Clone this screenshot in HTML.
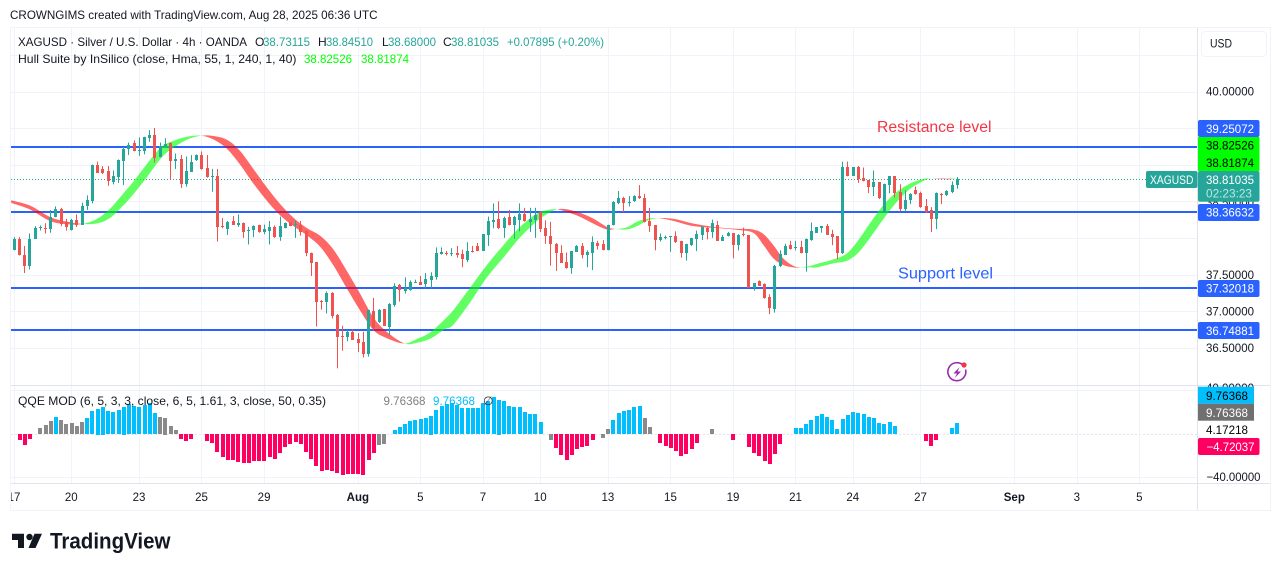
<!DOCTYPE html>
<html lang="en">
<head>
<meta charset="utf-8">
<title>XAGUSD 4h chart</title>
<style>
html,body{margin:0;padding:0;background:#fff;width:1281px;height:571px;overflow:hidden}
svg{display:block}
text{font-family:"Liberation Sans",sans-serif;font-size:12px;fill:#131722}
.px{font-size:12px}
</style>
</head>
<body>
<svg id="chart" xmlns="http://www.w3.org/2000/svg" width="1281" height="571" viewBox="0 0 1281 571">
<defs>
<clipPath id="clip-main"><rect x="11" y="28" width="1186" height="357"/></clipPath>
<clipPath id="clip-qqe"><rect x="11" y="386" width="1186" height="97"/></clipPath>
<clipPath id="clip-time"><rect x="11" y="484" width="1186" height="26"/></clipPath>
</defs>
<rect x="0" y="0" width="1281" height="571" fill="#ffffff"/>
<text x="10" y="19" textLength="367.5" lengthAdjust="spacingAndGlyphs">CROWNGIMS created with TradingView.com, Aug 28, 2025 06:36 UTC</text>

<g id="grid"></g>
<g id="levels" clip-path="url(#clip-main)"></g>
<g id="hull" clip-path="url(#clip-main)"></g>
<g id="candles" clip-path="url(#clip-main)"></g>
<g id="qqe" clip-path="url(#clip-qqe)"></g>

<g fill="none">
<path d="M10.5 27.5H1270.5V510.5H10.5Z" stroke="#f0f3fa"/>
<path d="M11 385.5H1270" stroke="#e0e3eb"/>
<path d="M11 483.5H1270" stroke="#e0e3eb"/>
<path d="M1197.5 28V510" stroke="#e0e3eb"/>
</g>

<g>
<text x="877" y="132" textLength="114.5" lengthAdjust="spacingAndGlyphs" style="font-size:16px;fill:#f23645">Resistance level</text>
<text x="898" y="278.5" textLength="95" lengthAdjust="spacingAndGlyphs" style="font-size:16px;fill:#2962ff">Support level</text>
<g>
<path d="M963.5 365.6A9 9 0 1 0 965.6 369.5" fill="none" stroke="#9c27b0" stroke-width="1.6"/>
<path d="M959.5 367L953.5 373.5H957L954.8 378L961 371.5H957.5Z" fill="#9c27b0"/>
<circle cx="964" cy="365" r="2.6" fill="#f23645"/>
</g>
</g>

<g>
<text x="18" y="46" textLength="229" lengthAdjust="spacingAndGlyphs">XAGUSD · Silver / U.S. Dollar · 4h · OANDA</text>
<text x="255" y="46">O</text>
<text x="263" y="46" textLength="47" lengthAdjust="spacingAndGlyphs" style="fill:#26a69a">38.73115</text>
<text x="318" y="46">H</text>
<text x="326" y="46" textLength="47" lengthAdjust="spacingAndGlyphs" style="fill:#26a69a">38.84510</text>
<text x="382" y="46">L</text>
<text x="388" y="46" textLength="48" lengthAdjust="spacingAndGlyphs" style="fill:#26a69a">38.68000</text>
<text x="443" y="46">C</text>
<text x="451" y="46" textLength="48" lengthAdjust="spacingAndGlyphs" style="fill:#26a69a">38.81035</text>
<text x="507" y="46" textLength="97" lengthAdjust="spacingAndGlyphs" style="fill:#26a69a">+0.07895 (+0.20%)</text>
<text x="18" y="63" textLength="278.5" lengthAdjust="spacingAndGlyphs">Hull Suite by InSilico (close, Hma, 55, 1, 240, 1, 40)</text>
<text x="304" y="63" textLength="48" lengthAdjust="spacingAndGlyphs" style="fill:#00ff00">38.82526</text>
<text x="361" y="63" textLength="48" lengthAdjust="spacingAndGlyphs" style="fill:#00ff00">38.81874</text>
</g>

<g>
<text x="18" y="405" textLength="308" lengthAdjust="spacingAndGlyphs">QQE MOD (6, 5, 3, 3, close, 6, 5, 1.61, 3, close, 50, 0.35)</text>
<text x="383.5" y="405" textLength="42" lengthAdjust="spacingAndGlyphs" style="fill:#808080">9.76368</text>
<text x="433" y="405" textLength="42" lengthAdjust="spacingAndGlyphs" style="fill:#00bfff">9.76368</text>
<text x="483" y="405" style="fill:#333">∅</text>
</g>

<g id="priceaxis"></g>

<g>
<text x="1206" y="206.5" textLength="48" lengthAdjust="spacingAndGlyphs">38.50000</text>
<g><rect x="1198" y="120" width="61.5" height="17" rx="2" fill="#2962ff"/><text x="1206" y="133" textLength="48" lengthAdjust="spacingAndGlyphs" style="fill:#fff">39.25072</text></g>
<rect x="1198" y="137" width="61.5" height="34" fill="#00ff00"/>
<text x="1206" y="149.5" textLength="48" lengthAdjust="spacingAndGlyphs" style="fill:#000">38.82526</text>
<text x="1206" y="167" textLength="48" lengthAdjust="spacingAndGlyphs" style="fill:#000">38.81874</text>
<rect x="1198" y="171" width="61.5" height="30.7" rx="2" fill="#26a69a"/>
<text x="1206" y="184" textLength="48" lengthAdjust="spacingAndGlyphs" style="fill:#fff">38.81035</text>
<text x="1206" y="197.5" textLength="46" lengthAdjust="spacingAndGlyphs" style="fill:#bfe5e1">02:23:23</text>
<rect x="1146" y="171" width="51.5" height="17" rx="2" fill="#26a69a"/>
<text x="1150" y="184" textLength="43.5" lengthAdjust="spacingAndGlyphs" style="fill:#fff">XAGUSD</text>
<g><rect x="1198" y="204" width="61.5" height="17" rx="2" fill="#2962ff"/><text x="1206" y="216.5" textLength="48" lengthAdjust="spacingAndGlyphs" style="fill:#fff">38.36632</text></g>
<g><rect x="1198" y="280" width="61.5" height="17" rx="2" fill="#2962ff"/><text x="1206" y="292.5" textLength="48" lengthAdjust="spacingAndGlyphs" style="fill:#fff">37.32018</text></g>
<g><rect x="1198" y="322" width="61.5" height="17" rx="2" fill="#2962ff"/><text x="1206" y="335" textLength="48" lengthAdjust="spacingAndGlyphs" style="fill:#fff">36.74881</text></g>

<text x="1206" y="392" textLength="48" lengthAdjust="spacingAndGlyphs">40.00000</text>
<rect x="1198" y="386.7" width="56" height="17" fill="#00bfff"/>
<text x="1206" y="400" textLength="42" lengthAdjust="spacingAndGlyphs" style="fill:#000">9.76368</text>
<rect x="1198" y="403.7" width="56" height="17" fill="#707070"/>
<text x="1206" y="417" textLength="42" lengthAdjust="spacingAndGlyphs" style="fill:#fff">9.76368</text>
<text x="1206" y="434" textLength="42" lengthAdjust="spacingAndGlyphs" style="fill:#000">4.17218</text>
<rect x="1198" y="438" width="61.5" height="17" rx="2" fill="#ff0062"/>
<text x="1206.5" y="451" textLength="48" lengthAdjust="spacingAndGlyphs" style="fill:#fff">−4.72037</text>
<text x="1206.5" y="481" textLength="54" lengthAdjust="spacingAndGlyphs">−40.00000</text>

<g>
<rect x="1201.5" y="31.5" width="65" height="25" rx="4" fill="#fff" stroke="#f0f3fa"/>
<text x="1210" y="47.5" textLength="22" lengthAdjust="spacingAndGlyphs">USD</text>
</g>
</g>

<g id="timeaxis" clip-path="url(#clip-time)"></g>

<g>
<path d="M12 533.7H24V548H18V540H12Z" fill="#131722"/>
<circle cx="29.5" cy="537" r="3.2" fill="#131722"/>
<path d="M34.5 533.7H42L35.5 548H28.5Z" fill="#131722"/>
<text x="50" y="548.5" textLength="120.5" lengthAdjust="spacingAndGlyphs" style="font-size:22px;font-weight:700;fill:#131722">TradingView</text>
</g>
</svg>

<script>
/* ---------- chart data ---------- */
var opens = [
37.85,37.99,37.78,37.62,38.00,38.15,38.15,38.13,38.29,38.40,
38.23,38.12,38.26,38.19,38.44,38.51,39.00,38.95,38.92,38.77,
38.84,39.06,39.22,39.31,39.19,39.20,39.37,39.42,39.11,39.27,
39.30,39.06,39.09,38.74,38.91,39.07,39.14,38.96,38.85,38.86,
38.17,38.13,38.24,38.18,38.21,38.11,38.12,38.18,38.09,38.10,
38.16,38.02,38.15,38.22,38.19,38.18,38.10,37.81,37.68,37.15,
37.13,37.26,36.96,36.67,36.66,36.73,36.63,36.59,36.43,37.01,
36.86,37.04,36.80,37.10,37.37,37.29,37.30,37.40,37.41,37.38,
37.44,37.48,37.79,37.81,37.79,37.80,37.79,37.71,37.83,37.90,
37.83,38.05,38.23,38.27,38.14,38.29,38.18,38.26,38.33,38.23,
38.25,38.36,38.14,38.04,37.93,37.81,37.68,37.60,37.82,37.90,
37.78,37.80,37.94,37.93,37.84,38.18,38.48,38.55,38.49,38.51,
38.58,38.56,38.24,38.18,37.98,38.01,38.02,38.03,37.97,37.81,
37.91,38.00,38.05,38.15,38.09,38.19,37.97,38.03,38.07,37.91,
38.06,38.05,37.32,37.42,37.38,37.20,37.04,37.62,37.78,37.91,
37.87,37.88,37.80,37.98,38.08,38.14,38.17,38.06,38.03,37.81,
38.98,38.86,38.97,38.82,38.80,38.70,38.77,38.36,38.73,38.85,
38.64,38.40,38.52,38.66,38.62,38.44,38.39,38.27,38.61,38.59,38.64,38.73];
var highs = [
38.02,38.02,37.90,38.07,38.17,38.18,38.21,38.39,38.44,38.42,
38.27,38.27,38.33,38.49,38.59,39.01,39.05,38.99,38.99,38.93,
39.08,39.25,39.31,39.34,39.38,39.39,39.48,39.51,39.31,39.37,
39.31,39.16,39.14,39.12,39.14,39.15,39.19,39.14,38.95,38.95,
38.28,38.24,38.31,38.33,38.22,38.16,38.18,38.19,38.19,38.24,
38.18,38.30,38.22,38.22,38.25,38.24,38.11,37.81,37.68,37.16,
37.28,37.27,36.97,36.81,36.75,36.76,36.71,36.73,37.03,37.19,
37.04,37.04,37.12,37.39,37.38,37.47,37.43,37.44,37.49,37.53,
37.54,37.88,37.88,37.83,37.87,37.90,37.85,37.95,37.90,37.94,
38.06,38.30,38.48,38.51,38.30,38.39,38.31,38.48,38.42,38.42,
38.42,38.37,38.25,38.23,37.94,37.91,37.81,37.83,37.91,37.94,
37.84,38.03,37.97,37.98,38.19,38.51,38.65,38.57,38.58,38.59,
38.73,38.61,38.42,38.18,38.07,38.04,38.03,38.10,37.97,37.93,
38.01,38.11,38.17,38.16,38.26,38.24,38.05,38.09,38.07,38.06,
38.15,38.05,37.39,37.43,37.39,37.24,37.64,37.84,37.93,37.97,
37.97,37.97,38.00,38.22,38.16,38.17,38.20,38.12,38.03,39.05,
39.05,38.97,38.99,38.97,38.80,38.93,38.77,38.75,38.85,38.85,
38.74,38.66,38.62,38.71,38.64,38.54,38.43,38.63,38.62,38.66,38.78,38.84];
var lows = [
37.84,37.77,37.53,37.58,38.00,38.11,38.07,38.08,38.29,38.17,
38.11,38.11,38.16,38.19,38.39,38.48,38.90,38.88,38.72,38.74,
38.76,38.73,39.14,39.19,39.13,39.15,39.32,39.04,39.11,39.24,
38.80,38.95,38.69,38.71,38.91,39.06,38.94,38.83,38.64,37.96,
38.14,38.05,38.19,38.16,38.01,37.92,38.02,38.08,38.06,37.92,
38.01,37.97,38.14,38.17,38.01,38.04,37.76,37.49,36.80,37.03,
36.98,36.91,36.23,36.47,36.60,36.62,36.45,36.38,36.39,36.75,
36.85,36.81,36.68,37.07,37.14,37.25,37.29,37.40,37.37,37.32,
37.32,37.44,37.78,37.77,37.76,37.74,37.61,37.68,37.81,37.83,
37.83,37.90,38.14,38.13,38.01,38.18,38.00,38.10,38.23,38.09,
38.01,38.09,37.93,37.63,37.56,37.67,37.59,37.52,37.82,37.73,
37.61,37.57,37.85,37.84,37.84,38.18,38.47,38.36,38.44,38.50,
38.54,38.22,38.09,37.84,37.96,37.99,37.82,37.94,37.74,37.70,
37.90,37.83,37.98,37.99,38.01,37.97,37.97,38.03,37.73,37.84,
38.03,37.33,37.29,37.36,37.18,36.97,36.99,37.61,37.78,37.85,
37.84,37.80,37.55,37.97,38.08,38.08,38.05,37.91,37.72,37.79,
38.85,38.86,38.76,38.78,38.62,38.58,38.54,38.35,38.62,38.56,
38.37,38.37,38.47,38.60,38.42,38.35,38.09,38.13,38.47,38.58,38.62,38.68];
var closes = [
37.99,37.77,37.62,38.00,38.14,38.16,38.13,38.30,38.40,38.20,
38.16,38.26,38.18,38.45,38.52,39.00,38.90,38.90,38.79,38.85,
39.07,39.22,39.28,39.19,39.21,39.38,39.42,39.10,39.27,39.29,
39.06,39.09,38.75,38.92,39.05,39.14,38.95,38.84,38.86,38.16,
38.16,38.23,38.19,38.21,38.09,38.12,38.17,38.09,38.13,38.16,
38.02,38.17,38.21,38.17,38.20,38.09,37.81,37.67,37.13,37.14,
37.26,36.95,36.66,36.66,36.72,36.62,36.58,36.43,37.02,36.78,
37.03,36.81,37.11,37.36,37.30,37.33,37.41,37.41,37.37,37.45,
37.49,37.80,37.82,37.80,37.80,37.78,37.72,37.83,37.82,37.83,
38.06,38.24,38.26,38.14,38.28,38.18,38.29,38.33,38.24,38.27,
38.32,38.13,38.03,37.93,37.81,37.67,37.60,37.83,37.90,37.78,
37.82,37.95,37.90,37.85,38.19,38.50,38.55,38.49,38.50,38.58,
38.55,38.22,38.17,37.98,38.02,38.02,38.03,37.96,37.81,37.93,
38.01,38.06,38.16,38.09,38.21,37.97,38.02,38.07,37.91,38.05,
38.05,37.33,37.39,37.36,37.19,37.05,37.63,37.79,37.90,37.86,
37.88,37.81,37.99,38.10,38.16,38.17,38.05,38.02,37.80,38.97,
38.85,38.97,38.81,38.79,38.71,38.77,38.55,38.74,38.85,38.62,
38.40,38.53,38.61,38.61,38.43,38.36,38.27,38.62,38.60,38.65,38.73,38.81];

/* Hull Suite band read at sampled bar positions */
var hullBars = [-0.6,3.0,6.8,10.0,12.9,15.8,18.4,20.9,22.8,25.4,28.0,29.9,33.1,35.9,38.2,40.8,43.3,45.9,48.4,51.0,53.6,56.1,58.7,61.2,63.8,66.3,68.9,71.5,74.9,77.2,79.8,82.5,84.3,87.5,90.7,93.9,97.1,100.3,102.2,104.1,106.0,108.6,111.1,113.7,115.1,117.5,119.5,121.4,123.6,126.5,129.7,132.9,135.4,138.6,141.8,143.8,145.7,147.6,149.5,150.9,152.7,154.0,157.2,159.8,162.0,164.2,166.8,169.4,171.9,174.5,176.0,179.9,181.0];
var hullFast = [38.487,38.397,38.242,38.197,38.197,38.265,38.410,38.614,38.773,39.013,39.236,39.317,39.390,39.404,39.353,39.226,39.013,38.750,38.524,38.319,38.170,38.047,37.889,37.639,37.322,37.027,36.755,36.641,36.568,36.628,36.719,36.891,37.027,37.331,37.639,37.911,38.161,38.342,38.387,38.401,38.365,38.297,38.206,38.124,38.129,38.152,38.229,38.270,38.280,38.242,38.179,38.152,38.143,38.120,38.079,37.911,37.730,37.639,37.607,37.606,37.626,37.653,37.716,37.798,37.979,38.206,38.456,38.637,38.750,38.814,38.819,38.809,38.825];
var hullSlow = [38.524,38.451,38.297,38.233,38.202,38.206,38.283,38.451,38.601,38.832,39.082,39.208,39.349,39.403,39.399,39.348,39.199,38.950,38.705,38.473,38.283,38.147,38.039,37.857,37.562,37.258,36.927,36.727,36.569,36.578,36.633,36.759,36.827,37.131,37.471,37.743,38.016,38.238,38.333,38.397,38.401,38.351,38.274,38.161,38.134,38.124,38.170,38.242,38.279,38.270,38.215,38.174,38.152,38.134,38.124,38.061,37.910,37.729,37.630,37.607,37.607,37.607,37.662,37.698,37.807,38.006,38.266,38.501,38.677,38.786,38.818,38.818,38.819];

/* horizontal levels */
var levelPrices = [39.25072,38.36632,37.32018,36.74881];
var lastPrice = 38.81035;

/* QQE MOD histogram, one value per bar */
var qqeValues = [
0,-5.2,-9.8,-4.3,0,5.8,8.6,12.3,16,13.2,
9.5,10.5,7.7,11.4,15,21.5,23.7,25.5,21.5,20.6,
22.5,25.5,28,26,25,27,29,19.7,16,15.4,
7.7,3.7,-4.3,-6.2,-4.3,0,0,-6.2,-8,-16.3,
-21.2,-23.7,-24,-25.5,-26.5,-26.5,-24.6,-24.6,-24.6,-21,
-22.8,-17.2,-11.7,-9,-7,-9,-16.3,-22.8,-29.2,-33.8,
-33,-33.8,-35.7,-37.5,-36.6,-36.6,-36.6,-37.5,-23.7,-17.2,
-9.8,-9,0,4,6.8,9.5,12.3,13.2,14.2,15,
17.2,22.5,26,28,29,27,24.3,24.3,24.3,24.3,
29,30.8,34,32,30.8,26,25.2,25.2,20.6,18.8,
18.8,11.4,0,-5.2,-12.6,-19,-23.7,-19,-13.5,-11.7,
-10.8,-5.2,0,-3.4,4.9,13.2,19.7,21.5,22.5,25.2,
26,15,6.8,0,-8,-10.8,-12.6,-15.4,-20,-18.2,
-13.5,-8,0,0,4.9,0,0,0,-5.2,0,
0,-11.7,-17.2,-20,-24.6,-27.4,-18.2,-8.9,0,0,
5.8,5.8,9.5,13.2,16.9,18.8,16,13.2,4.9,14.2,
17.8,20.6,19.7,18.8,16,15,10.5,9.5,11.4,7.7,
0,0,0,0,0,-6.2,-10.8,-5.2,0,0,5.8,10.5];
var qqeNeutralBars = [5,6,7,9,10,11,12,13,28,29,30,31,70,71,103,113,114,121,122,134];

/* axis ticks and labels */
var priceGridTicks = [40.5,40,39.5,39,38.5,38,37.5,37,36.5];
var priceTickValues = [40,37.5,37,36.5];
var priceTickLabels = ['40.00000','37.50000','37.00000','36.50000'];
var timeTickBars = [0,11,24,36,48,66,78,90,101,114,126,138,150,161,174,192,204,216];
var timeTickLabels = ['17','20','23','25','29','Aug','5','7','10','13','15','19','21','24','27','Sep','3','5'];
var qqeGridTicks = [40,0,-40];

/* ---------- axis functions ---------- */
var SVGNS = 'http://www.w3.org/2000/svg';
function xScale(bar){ return 14.3 + 5.21 * bar; }
function priceY(p){ return 92 + (40 - p) * 73.3; }
function qqeY(v){ return 434.2 - v * 1.084; }
function snap(v){ return Math.floor(v) + 0.5; }
function make(tag, attrs, parent){
  var el = document.createElementNS(SVGNS, tag);
  for (var k in attrs) el.setAttribute(k, attrs[k]);
  parent.appendChild(el);
  return el;
}

/* grid */
var gridG = document.getElementById('grid');
priceGridTicks.forEach(function(p){
  var y = snap(priceY(p));
  var line = make('line', {x1:11, x2:1197, y1:y, y2:y, stroke:'#f0f3fa'}, gridG);
  
  
});
qqeGridTicks.forEach(function(v){
  var y = snap(qqeY(v));
  var line = make('line', {x1:11, x2:1197, y1:y, y2:y, stroke: v === 0 ? '#e3e5ea' : '#f0f3fa'}, gridG);
  if (v === 0) line.setAttribute('stroke-dasharray', '2 2');
  
  
});
timeTickBars.forEach(function(b){
  var x = snap(xScale(b));
  var line = make('line', {x1:x, x2:x, y1:28, y2:483, stroke:'#f0f3fa'}, gridG);
  
  
});

/* price axis labels */
var priceAxisG = document.getElementById('priceaxis');
priceTickValues.forEach(function(p, i){
  var t = make('text', {x:1206, y:priceY(p) + 3.6, textLength:48, lengthAdjust:'spacingAndGlyphs'}, priceAxisG);
  t.textContent = priceTickLabels[i];
  
  
});

/* time axis labels */
var timeG = document.getElementById('timeaxis');
timeTickBars.forEach(function(b, i){
  var isMonth = isNaN(+timeTickLabels[i]);
  var t = make('text', {x:xScale(b) - 0.3, y:501, 'text-anchor':'middle'}, timeG);
  if (isMonth) t.setAttribute('style', 'font-weight:700;font-size:11.5px');
  else t.setAttribute('style', 'font-size:11.5px');
  t.textContent = timeTickLabels[i];
  
  
});

/* levels */
var levelsG = document.getElementById('levels');
levelPrices.forEach(function(p){
  var y = Math.round(priceY(p));
  var line = make('rect', {x:11, width:1186, y:y - 1, height:2, fill:'#2962ff'}, levelsG);
  
  
});
var lastLine = make('line', {x1:11, x2:1146, y1:snap(priceY(lastPrice)), y2:snap(priceY(lastPrice)), stroke:'#26a69a', 'stroke-dasharray':'1 2'}, levelsG);



/* hull band: contiguous knots of one colour form one smooth ribbon */
function tangent(vals, k){
  var a = Math.max(k - 1, 0), b = Math.min(k + 1, vals.length - 1);
  return (vals[b] - vals[a]) / (b - a);
}
function bezierTo(xs, ys, from, to){
  var t0 = tangent(xs, from), t1 = tangent(xs, to);
  var u0 = tangent(ys, from), u1 = tangent(ys, to);
  var dir = to > from ? 1 : -1;
  return 'C' + (xs[from] + dir * t0 / 3).toFixed(2) + ' ' + (ys[from] + dir * u0 / 3).toFixed(2) + ' ' +
         (xs[to] - dir * t1 / 3).toFixed(2) + ' ' + (ys[to] - dir * u1 / 3).toFixed(2) + ' ' +
         xs[to].toFixed(2) + ' ' + ys[to].toFixed(2);
}
var hullG = document.getElementById('hull');
var hullXs = hullBars.map(xScale);
var hullFastYs = hullFast.map(priceY);
var hullSlowYs = hullSlow.map(priceY);
var runStart = 0;
for (var k = 1; k < hullBars.length; k++) {
  var rising = hullFast[k] >= hullSlow[k];
  var endRun = k === hullBars.length - 1 || (hullFast[k + 1] >= hullSlow[k + 1]) !== rising;
  if (endRun) {
    var d = 'M' + hullXs[runStart].toFixed(2) + ' ' + hullFastYs[runStart].toFixed(2);
    for (var j = runStart; j < k; j++) d += bezierTo(hullXs, hullFastYs, j, j + 1);
    d += 'L' + hullXs[k].toFixed(2) + ' ' + hullSlowYs[k].toFixed(2);
    for (var m = k; m > runStart; m--) d += bezierTo(hullXs, hullSlowYs, m, m - 1);
    d += 'Z';
    var ribbon = make('path', {d:d, fill: rising ? 'rgba(0,255,0,0.62)' : 'rgba(255,0,0,0.6)'}, hullG);
    
    
    runStart = k;
  }
}

/* candles */
var candlesG = document.getElementById('candles');
opens.forEach(function(o, i){
  var c = closes[i], up = c > o, color = up ? '#26a69a' : '#ef5350';
  var xc = xScale(i);
  var wickX = Math.floor(xc);
  var wick = make('rect', {x:wickX, width:1, y:priceY(highs[i]), height:Math.max(1, priceY(lows[i]) - priceY(highs[i])), fill:color}, candlesG);
  
  
  var top = Math.round(priceY(Math.max(o, c)));
  var bot = Math.round(priceY(Math.min(o, c)));
  var body = make('rect', {x:wickX - 1, width:3, y:top, height:Math.max(1, bot - top), fill:color}, candlesG);
  
  
});

/* qqe histogram */
var qqeG = document.getElementById('qqe');
qqeValues.forEach(function(v, i){
  if (v === 0) return;
  var neutral = qqeNeutralBars.indexOf(i) >= 0;
  var color = neutral ? '#8a8a8a' : (v > 0 ? '#00bfff' : '#ff0062');
  var y0 = qqeY(0), y1 = qqeY(v);
  var bar = make('rect', {x:Math.round(xScale(i) - 2), width:4, y:Math.round(Math.min(y0, y1)), height:Math.round(Math.abs(y1 - y0)), fill:color}, qqeG);
  
  
});
</script>
</body>
</html>
